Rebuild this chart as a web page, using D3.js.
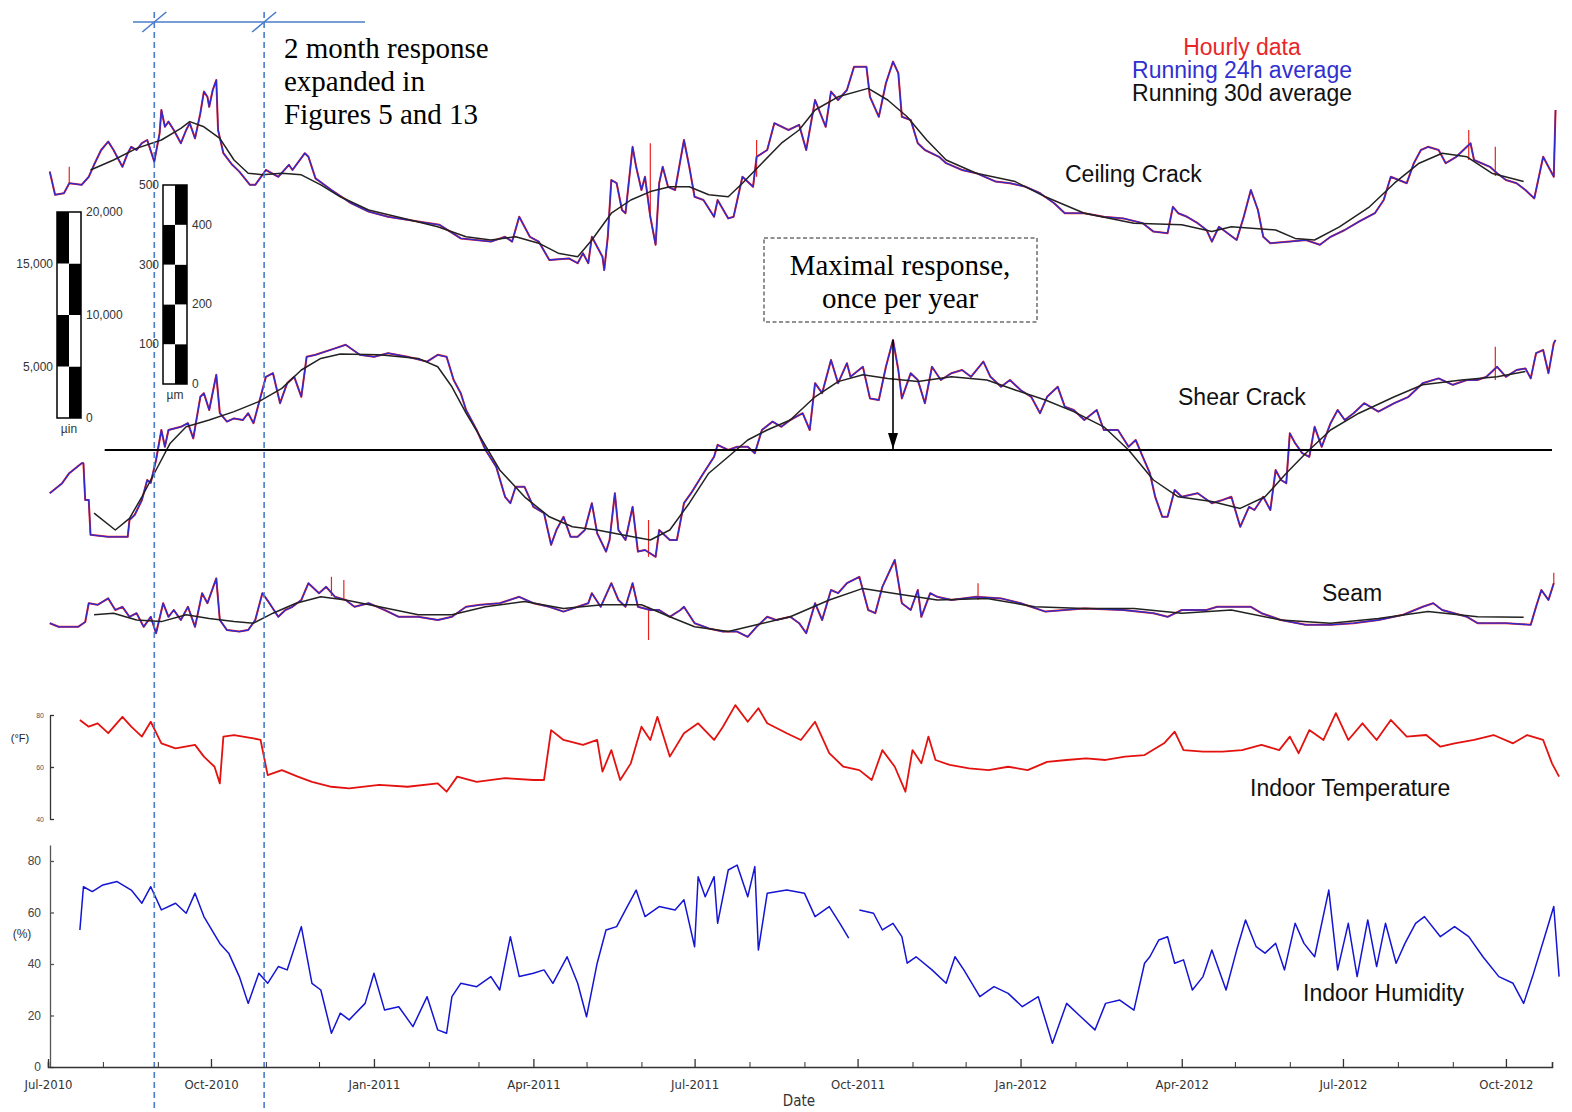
<!DOCTYPE html>
<html>
<head>
<meta charset="utf-8">
<script src="https://cdn.jsdelivr.net/npm/d3@7"></script>
<style>
  body { margin: 0; background: #fff; }
  text { font-family: "Liberation Sans", Arial, sans-serif; }
  .serif { font-family: "Liberation Serif", "Times New Roman", serif; }
  .narrow { font-family: "Liberation Sans Narrow", "DejaVu Sans Condensed", "Liberation Sans", sans-serif; }
</style>
</head>
<body>
<div id="chart"></div>
<script>
// days are counted from 1 Jul 2010; crack values in um, temperature in F, humidity in %
const ceilingDaily = [[1,271],[4,213],[9,217],[12,242],[19,238],[23,258],[26,288],[30,325],[34,346],[37,325],[39,308],[42,283],[45,317],[47,333],[50,325],[53,342],[56,350],[60,296],[63,367],[64,425],[66,383],[68,396],[71,375],[75,342],[78,375],[80,392],[83,354],[86,417],[88,471],[90,458],[91,433],[93,475],[95,500],[96,375],[99,317],[104,288],[108,271],[114,238],[117,238],[123,275],[130,258],[136,288],[138,275],[145,317],[147,308],[151,254],[160,225],[171,192],[181,171],[192,158],[209,146],[221,138],[233,104],[250,96],[258,108],[262,96],[266,158],[272,108],[277,96],[283,50],[294,54],[299,42],[302,67],[305,42],[307,108],[313,58],[314,25],[316,108],[318,250],[321,242],[324,175],[326,167],[330,333],[332,283],[335,225],[337,258],[340,158],[343,88],[345,242],[347,283],[350,233],[354,225],[359,350],[362,283],[365,208],[370,200],[376,158],[378,200],[384,154],[387,158],[392,258],[398,233],[400,308],[406,325],[410,392],[418,375],[424,388],[428,325],[433,450],[439,383],[442,471],[446,450],[451,475],[455,533],[462,533],[464,458],[469,408],[473,492],[477,546],[480,517],[482,408],[487,400],[491,342],[495,325],[503,308],[507,292],[516,275],[524,267],[535,246],[543,242],[552,233],[560,217],[568,192],[574,167],[585,167],[596,158],[607,154],[618,142],[624,121],[632,117],[635,183],[638,167],[643,158],[649,142],[654,125],[657,96],[661,133],[671,100],[675,158],[679,225],[683,175],[686,108],[690,92],[701,96],[710,100],[718,88],[724,108],[732,125],[740,146],[749,167],[754,200],[758,258],[767,242],[771,292],[775,325],[779,333],[785,325],[789,292],[795,308],[803,342],[805,300],[814,283],[818,267],[823,250],[829,242],[834,225],[839,204],[844,308],[850,258],[851,425]];
const ceilingMonthly = [[24,275],[37,300],[50,329],[64,350],[75,379],[80,396],[88,383],[97,354],[105,300],[113,267],[121,263],[132,267],[143,263],[154,238],[165,208],[181,175],[201,154],[220,133],[236,108],[250,100],[264,108],[277,92],[288,67],[299,58],[307,100],[318,167],[329,200],[340,221],[351,233],[362,233],[373,213],[384,208],[392,242],[403,292],[414,342],[424,375],[433,425],[446,458],[463,479],[474,450],[485,408],[496,350],[507,300],[524,267],[546,246],[563,208],[585,167],[613,142],[640,138],[657,121],[668,133],[693,125],[704,104],[715,100],[729,133],[746,183],[760,242],[774,292],[787,317],[801,308],[815,267],[833,246]];
const ceilingHourly = [[12,240,283],[340,158,342],[400,258,350],[802,300,375],[817,260,333]];

const shearDaily = [[1,167],[8,192],[12,217],[19,242],[20,242],[21,150],[23,150],[24,63],[34,58],[45,58],[46,100],[49,113],[53,150],[56,200],[58,193],[61,250],[64,325],[66,283],[68,325],[75,333],[79,342],[82,304],[86,408],[88,417],[91,375],[95,463],[97,367],[101,346],[105,354],[110,350],[113,367],[116,342],[120,408],[123,458],[127,467],[131,392],[135,442],[139,458],[143,408],[146,508],[151,513],[162,529],[168,538],[176,513],[184,508],[192,517],[203,508],[214,496],[220,513],[225,508],[229,450],[233,417],[236,375],[242,325],[247,275],[253,233],[258,158],[261,142],[264,183],[269,183],[274,133],[280,117],[284,38],[287,75],[291,108],[295,58],[299,58],[303,75],[307,142],[310,67],[315,21],[317,50],[320,167],[322,75],[326,50],[330,133],[333,21],[337,25],[343,8],[345,75],[351,50],[355,50],[359,142],[363,167],[370,217],[376,258],[378,288],[384,275],[389,283],[395,283],[399,267],[403,325],[409,346],[414,333],[419,350],[426,367],[430,325],[433,442],[437,417],[442,500],[446,442],[451,492],[453,458],[460,483],[464,404],[469,400],[473,483],[477,550],[480,475],[482,404],[487,467],[491,450],[495,392],[499,483],[504,450],[510,467],[516,475],[521,458],[528,496],[532,458],[538,433],[543,450],[549,425],[555,408],[560,367],[564,408],[570,433],[574,383],[579,375],[585,350],[592,375],[596,325],[604,325],[610,283],[614,300],[618,258],[622,217],[625,158],[629,108],[632,108],[636,175],[640,158],[649,167],[657,142],[663,150],[668,158],[673,83],[678,133],[681,125],[686,158],[690,125],[693,225],[696,200],[699,192],[701,317],[704,292],[708,267],[712,258],[715,333],[719,283],[724,342],[728,375],[732,350],[737,367],[743,392],[751,371],[760,392],[768,408],[776,442],[785,454],[793,438],[801,450],[807,450],[812,458],[818,483],[823,458],[829,475],[834,479],[837,454],[840,517],[844,525],[847,467],[850,542],[851,550]];
const shearMonthly = [[26,117],[38,75],[46,104],[53,158],[61,225],[69,292],[78,333],[91,350],[105,371],[119,396],[132,429],[143,475],[154,504],[165,515],[187,513],[209,504],[220,483],[228,433],[236,367],[244,308],[255,225],[269,158],[283,108],[296,83],[310,75],[324,63],[340,50],[351,75],[362,142],[373,217],[384,258],[395,300],[406,325],[419,350],[433,408],[446,446],[460,463],[474,454],[491,446],[510,458],[530,450],[546,425],[563,400],[579,371],[596,333],[610,275],[624,200],[638,158],[657,146],[673,129],[687,158],[699,217],[710,267],[724,325],[740,367],[760,408],[776,438],[798,450],[818,458],[834,471]];
const shearHourly = [[339,8,100],[817,450,533]];

const seamDaily = [[1,42],[6,33],[17,33],[21,45],[23,92],[28,88],[34,104],[38,75],[42,83],[46,58],[50,67],[54,33],[58,58],[61,17],[65,92],[68,58],[71,75],[75,50],[79,83],[83,33],[87,117],[90,92],[95,154],[97,50],[101,25],[108,21],[113,25],[117,50],[121,117],[125,92],[130,58],[134,75],[138,83],[143,100],[147,142],[153,117],[157,133],[162,108],[168,100],[173,83],[181,92],[190,75],[198,58],[209,58],[220,50],[228,58],[236,83],[244,88],[255,92],[266,108],[274,92],[283,83],[291,71],[299,83],[305,92],[307,117],[312,83],[318,142],[322,100],[326,83],[330,142],[333,83],[340,75],[345,75],[351,58],[357,75],[359,83],[365,42],[373,29],[381,21],[389,21],[395,8],[400,33],[406,58],[411,50],[419,58],[424,42],[428,17],[433,92],[437,50],[442,125],[446,117],[451,142],[458,158],[463,75],[467,67],[471,133],[478,200],[482,92],[487,75],[491,125],[493,58],[498,117],[502,108],[510,100],[524,108],[538,104],[549,92],[563,71],[585,79],[607,75],[624,67],[632,58],[640,75],[654,75],[660,83],[679,83],[685,67],[696,50],[710,38],[724,38],[737,42],[751,50],[765,63],[776,83],[782,92],[787,75],[801,58],[807,42],[815,42],[823,42],[837,38],[840,83],[843,125],[847,100],[850,142]];
const seamMonthly = [[26,63],[37,67],[50,50],[64,46],[78,63],[91,54],[105,46],[116,42],[127,67],[140,92],[154,108],[168,100],[187,83],[209,63],[228,63],[247,83],[269,96],[291,79],[313,88],[335,88],[351,58],[365,33],[384,21],[400,38],[419,58],[441,100],[460,129],[477,117],[502,100],[530,104],[557,83],[585,79],[613,79],[640,67],[668,75],[696,50],[724,42],[751,54],[779,71],[807,58],[833,57]];
const seamHourly = [[160,110,158],[167,100,150],[339,0,83],[525,100,142],[850,140,168]];

const temperature = [[18,78.1],[23,75.5],[28,76.8],[34,73.0],[42,79.3],[47,75.5],[53,71.7],[58,77.4],[64,69.1],[72,67.2],[83,68.5],[88,64.0],[94,60.1],[97,53.7],[99,71.7],[105,72.3],[116,71.0],[120,70.4],[124,56.9],[132,58.8],[141,56.3],[149,54.3],[160,52.4],[170,51.8],[187,53.1],[203,52.4],[220,53.7],[225,50.5],[231,56.3],[242,54.3],[258,55.7],[274,55.0],[280,55.0],[284,74.2],[291,70.4],[302,68.5],[310,70.4],[313,58.2],[318,66.5],[323,55.0],[329,61.4],[335,75.5],[340,70.4],[344,79.3],[351,64.0],[359,73.0],[367,76.8],[376,70.4],[381,75.5],[388,83.8],[395,77.4],[401,82.6],[406,76.8],[417,73.0],[425,70.4],[433,77.4],[441,65.3],[449,60.1],[458,58.8],[465,55.0],[471,66.5],[478,60.1],[484,50.5],[488,66.5],[493,61.4],[497,71.7],[501,62.7],[509,60.8],[520,59.5],[531,58.8],[542,60.1],[553,58.8],[564,62.0],[575,62.7],[586,63.3],[597,62.7],[608,64.0],[619,64.6],[630,69.1],[636,73.6],[641,66.5],[652,65.9],[663,65.9],[674,66.5],[685,68.5],[695,66.5],[701,71.7],[706,65.3],[712,74.2],[720,70.4],[727,80.7],[734,70.4],[742,76.8],[750,70.4],[758,78.1],[767,71.7],[778,72.3],[786,67.8],[794,69.1],[805,70.4],[816,72.3],[827,69.1],[835,72.3],[844,70.4],[849,61.4],[853,56.3]];
const humidity = [[18,53.2],[20,70.0],[25,68.1],[31,70.7],[39,72.0],[47,68.7],[53,63.6],[58,70.0],[64,61.0],[72,63.6],[78,59.7],[83,67.5],[88,58.4],[97,48.0],[102,44.2],[108,35.1],[113,24.7],[119,36.4],[124,32.5],[130,39.0],[135,37.7],[143,54.5],[149,32.5],[154,29.9],[160,13.1],[165,20.9],[170,18.3],[179,24.7],[184,36.4],[190,22.1],[198,23.4],[206,15.7],[214,27.3],[220,14.4],[225,13.1],[228,27.3],[233,32.5],[242,31.2],[250,35.1],[255,29.9],[261,50.6],[266,35.1],[274,36.4],[280,37.7],[285,32.5],[293,42.8],[299,32.5],[304,19.5],[310,40.3],[315,53.2],[321,54.5],[326,61.0],[332,68.7],[337,58.4],[345,62.3],[354,61.0],[359,64.9],[365,46.7],[367,73.9],[371,66.1],[376,73.9],[378,55.8],[384,76.5],[389,78.4],[395,66.1],[399,77.8],[401,45.4],[406,67.5],[417,68.7],[427,67.5],[433,58.4],[441,62.3],[447,55.8],[452,50.0],[455,null],[458,61.0],[466,59.7],[471,53.2],[477,55.8],[482,50.6],[485,40.3],[490,42.8],[499,37.7],[507,32.5],[512,42.8],[517,37.7],[526,27.3],[534,31.2],[542,28.6],[550,23.4],[559,27.3],[567,9.2],[575,24.7],[583,19.5],[591,14.4],[597,24.7],[605,26.0],[613,22.1],[619,40.3],[622,42.8],[627,49.3],[632,50.6],[636,40.3],[641,41.6],[646,29.9],[652,35.1],[657,45.4],[665,29.9],[671,45.4],[676,57.1],[682,46.7],[687,44.2],[693,48.0],[698,37.7],[704,55.8],[709,48.0],[715,42.8],[723,68.7],[728,37.7],[734,55.8],[739,35.1],[745,57.1],[750,39.0],[755,55.8],[761,40.3],[766,48.0],[772,55.8],[777,58.4],[786,50.6],[794,54.5],[802,50.6],[810,42.8],[819,35.1],[827,32.5],[833,24.7],[838,35.1],[846,53.2],[850,62.3],[853,35.1]];

const monthTicks = d3.range(0, 28);            // months after Jul 2010
const labelMonths = ["Jul-2010","Oct-2010","Jan-2011","Apr-2011","Jul-2011","Oct-2011","Jan-2012","Apr-2012","Jul-2012","Oct-2012"];
const windowDays = [60, 122];                 // 2 month window (dashed lines)
const maxResponseDay = 477;
const shearReference = 275;
const microInTicks = [0, 5000, 10000, 15000, 20000];
const microMTicks = [0, 100, 200, 300, 400, 500];
const tempTicks = [40, 60, 80];
const humTicks = [0, 20, 40, 60, 80];

const RED = "#e8231f", BLUE = "#2b2bd6", BLACK = "#222";

const width = 1572, height = 1112;
const svg = d3.select("#chart").append("svg")
  .attr("width", width).attr("height", height)
  .style("background", "#fff");

// time scale
const t0 = new Date(2010, 6, 1);
const day = d => d3.timeDay.offset(t0, d);
const x = d3.scaleTime().domain([t0, day(849)]).range([48, 1552]);

// vertical scales
const yCeiling = d3.scaleLinear().domain([0, 550]).range([280, 60]);
const yShear = d3.scaleLinear().domain([0, 550]).range([560, 340]);
const ySeam = d3.scaleLinear().domain([0, 200]).range([640, 560]);
const yTemp = d3.scaleLinear().domain([40, 80]).range([819, 715]);
const yHum = d3.scaleLinear().domain([0, 86.2]).range([1067, 845]);
const yMicroIn = d3.scaleLinear().domain([0, 20000]).range([418, 212]);
const yMicroM = d3.scaleLinear().domain([0, 500]).range([384, 185]);

function drawLine(data, y, color, w) {
  const line = d3.line()
    .defined(d => d[1] !== null)
    .x(d => x(day(d[0])))
    .y(d => y(d[1]));
  svg.append("path")
    .datum(data)
    .attr("d", line)
    .attr("fill", "none")
    .attr("stroke", color)
    .attr("stroke-width", w)
    .attr("stroke-linejoin", "round");
}

function drawHourly(spikes, y) {
  svg.append("g").selectAll("line")
    .data(spikes)
    .enter().append("line")
    .attr("x1", d => x(day(d[0]))).attr("x2", d => x(day(d[0])))
    .attr("y1", d => y(d[1])).attr("y2", d => y(d[2]))
    .attr("stroke", RED).attr("stroke-width", 1.2);
}

// crack series: hourly (red), 24h (blue), 30d (black)
[[ceilingDaily, ceilingMonthly, ceilingHourly, yCeiling],
 [shearDaily, shearMonthly, shearHourly, yShear],
 [seamDaily, seamMonthly, seamHourly, ySeam]].forEach(s => {
  drawLine(s[0], s[3], RED, 2.0);
  drawHourly(s[2], s[3]);
  drawLine(s[0], s[3], BLUE, 1.3);
  drawLine(s[1], s[3], BLACK, 1.5);
});

// indoor conditions
drawLine(temperature, yTemp, "#e3120f", 1.8);
drawLine(humidity, yHum, "#1414d4", 1.5);

// shear reference level and arrow
svg.append("defs").append("marker")
  .attr("id", "arrow").attr("viewBox", "0 0 16 10")
  .attr("refX", 16).attr("refY", 5)
  .attr("markerWidth", 16).attr("markerHeight", 10)
  .attr("markerUnits", "userSpaceOnUse")
  .attr("orient", "auto")
  .append("path").attr("d", "M0,0L16,5L0,10Z").attr("fill", "#000");

svg.append("line")
  .attr("x1", x(day(32))).attr("x2", x(day(849)))
  .attr("y1", yShear(shearReference)).attr("y2", yShear(shearReference))
  .attr("stroke", "#000").attr("stroke-width", 1.8);

svg.append("line")
  .attr("x1", x(day(maxResponseDay))).attr("x2", x(day(maxResponseDay)))
  .attr("y1", yShear(550)).attr("y2", yShear(shearReference) - 1)
  .attr("stroke", "#000").attr("stroke-width", 1.6)
  .attr("marker-end", "url(#arrow)");

// dashed box annotation
svg.append("rect")
  .attr("x", 764).attr("y", 238).attr("width", 273).attr("height", 84)
  .attr("fill", "none").attr("stroke", "#222").attr("stroke-width", 1)
  .attr("stroke-dasharray", "4,2.5");
svg.append("text").attr("class", "serif")
  .attr("x", 900).attr("y", 275).attr("text-anchor", "middle")
  .style("font-size", "29px").text("Maximal response,");
svg.append("text").attr("class", "serif")
  .attr("x", 900).attr("y", 308).attr("text-anchor", "middle")
  .style("font-size", "29px").text("once per year");

// 2 month window
const winColor = "#4a7cc9";
windowDays.forEach(d => {
  svg.append("line")
    .attr("x1", x(day(d))).attr("x2", x(day(d)))
    .attr("y1", 12).attr("y2", height)
    .attr("stroke", winColor).attr("stroke-width", 1.6)
    .attr("stroke-dasharray", "6,4");
  svg.append("line")
    .attr("x1", x(day(d)) - 12).attr("x2", x(day(d)) + 12)
    .attr("y1", 32).attr("y2", 12)
    .attr("stroke", winColor).attr("stroke-width", 1.6);
});
svg.append("line")
  .attr("x1", 133).attr("x2", 365).attr("y1", 22).attr("y2", 22)
  .attr("stroke", winColor).attr("stroke-width", 1.6);

["2 month response", "expanded in", "Figures 5 and 13"].forEach((t, i) => {
  svg.append("text").attr("class", "serif")
    .attr("x", 284).attr("y", 58 + i * 33)
    .style("font-size", "29px").text(t);
});

// legend
[["Hourly data", "#e8262a"], ["Running 24h average", "#3030d0"], ["Running 30d average", "#111"]]
  .forEach((l, i) => {
    svg.append("text")
      .attr("x", 1242).attr("y", 55 + i * 23)
      .attr("text-anchor", "middle")
      .style("font-size", "23px").style("fill", l[1])
      .text(l[0]);
  });

// series labels
[["Ceiling Crack", 1065, 182], ["Shear Crack", 1178, 405], ["Seam", 1322, 601],
 ["Indoor Temperature", 1250, 796], ["Indoor Humidity", 1303, 1001]].forEach(l => {
  svg.append("text")
    .attr("x", l[1]).attr("y", l[2])
    .style("font-size", "23px").style("fill", "#111")
    .text(l[0]);
});

// checkered scale bars
function scaleBar(y, ticks, left, unit) {
  const g = svg.append("g");
  const step = ticks[1] - ticks[0];
  const segs = ticks.slice(0, -1);
  g.selectAll("rect.l").data(segs).enter().append("rect")
    .attr("x", left).attr("y", d => y(d + step)).attr("width", 12)
    .attr("height", d => y(d) - y(d + step))
    .attr("fill", (d, i) => i % 2 === 1 ? "#000" : "#fff");
  g.selectAll("rect.r").data(segs).enter().append("rect")
    .attr("x", left + 12).attr("y", d => y(d + step)).attr("width", 12)
    .attr("height", d => y(d) - y(d + step))
    .attr("fill", (d, i) => i % 2 === 0 ? "#000" : "#fff");
  g.append("rect")
    .attr("x", left).attr("y", y(ticks[ticks.length - 1])).attr("width", 24)
    .attr("height", y(ticks[0]) - y(ticks[ticks.length - 1]))
    .attr("fill", "none").attr("stroke", "#000").attr("stroke-width", 1.5);
  g.selectAll("text.t").data(ticks).enter().append("text")
    .attr("x", (d, i) => i % 2 === 0 ? left + 29 : left - 4)
    .attr("y", d => y(d) + 4)
    .attr("text-anchor", (d, i) => i % 2 === 0 ? "start" : "end")
    .style("font-size", "12px").style("fill", "#333")
    .text(d => d3.format(",")(d));
  g.append("text")
    .attr("x", left + 12).attr("y", y(ticks[0]) + 15)
    .attr("text-anchor", "middle")
    .style("font-size", "12px").style("fill", "#333")
    .text(unit);
}
scaleBar(yMicroIn, microInTicks, 57, "\u00b5in");
scaleBar(yMicroM, microMTicks, 163, "\u00b5m");

// temperature axis
const tempAxis = svg.append("g")
  .attr("transform", "translate(50,0)")
  .call(d3.axisLeft(yTemp).tickValues(tempTicks).tickSize(-4).tickSizeOuter(0).tickPadding(6));
tempAxis.selectAll("text").style("font-size", "7px").style("fill", "#555");
tempAxis.selectAll("path, line").attr("stroke", "#333").attr("stroke-width", 1.3);
svg.append("text").attr("x", 20).attr("y", 742).attr("text-anchor", "middle")
  .style("font-size", "11px").style("fill", "#222").text("(\u00b0F)");

// humidity axis
const humAxis = svg.append("g")
  .attr("transform", "translate(50,0)")
  .call(d3.axisLeft(yHum).tickValues(humTicks).tickSize(-4).tickSizeOuter(0).tickPadding(9));
humAxis.selectAll("text").style("font-size", "12px").style("fill", "#444");
humAxis.selectAll("path, line").attr("stroke", "#555").attr("stroke-width", 1.3);
svg.append("text").attr("x", 22).attr("y", 938).attr("text-anchor", "middle")
  .style("font-size", "12px").style("fill", "#333").text("(%)");

// date axis
const months = monthTicks.map(m => d3.timeMonth.offset(t0, m));
const minorAxis = svg.append("g")
  .attr("transform", "translate(0,1067)")
  .call(d3.axisBottom(x).tickValues(months.filter((m, i) => i % 3 !== 0)).tickSize(-5).tickFormat(""));
minorAxis.select(".domain").attr("stroke", "#333").attr("stroke-width", 1.6);
minorAxis.selectAll("line").attr("stroke", "#333");
const majorAxis = svg.append("g")
  .attr("transform", "translate(0,1067)")
  .call(d3.axisBottom(x).tickValues(months.filter((m, i) => i % 3 === 0)).tickSize(-8)
    .tickSizeOuter(0).tickPadding(13).tickFormat((d, i) => labelMonths[i]));
majorAxis.select(".domain").remove();
majorAxis.selectAll("line").attr("stroke", "#333").attr("stroke-width", 1.3);
majorAxis.selectAll("text").attr("class", "narrow").style("font-size", "13px").style("fill", "#333");

svg.append("text").attr("class", "narrow")
  .attr("x", 799).attr("y", 1106).attr("text-anchor", "middle")
  .style("font-size", "15px").style("fill", "#333").text("Date");
</script>
</body>
</html>
